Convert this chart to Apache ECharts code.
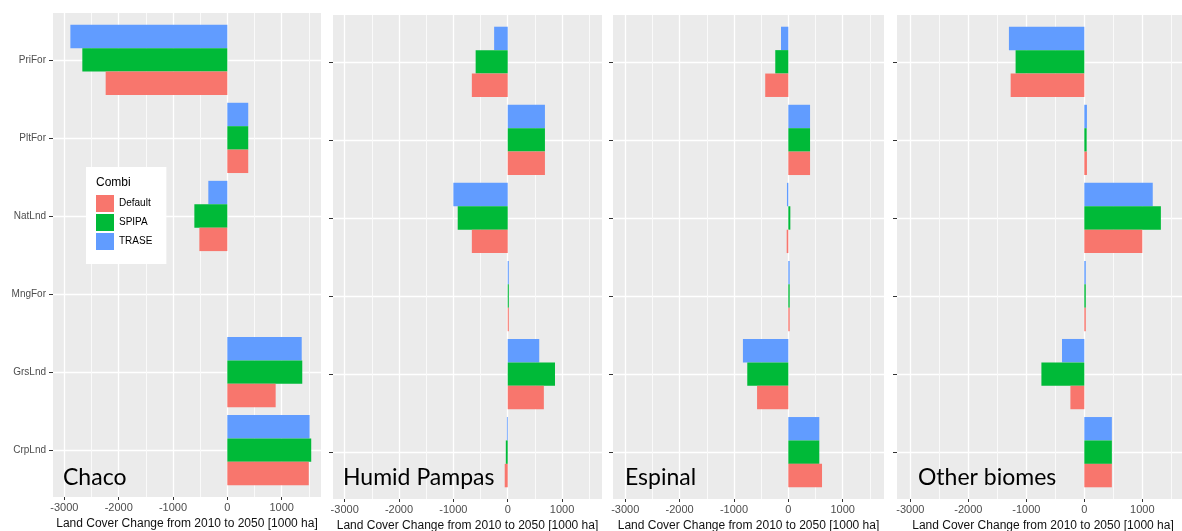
<!DOCTYPE html>
<html>
<head>
<meta charset="utf-8">
<script src="https://cdn.jsdelivr.net/npm/echarts@6/dist/echarts.min.js"></script>
<style>
html,body{margin:0;padding:0;background:#fff;}
#chart{width:1182px;height:531px;}
</style>
</head>
<body>
<div id="chart"></div>
<script>
// ---- data ----
const categories = ['PriFor', 'PltFor', 'NatLnd', 'MngFor', 'GrsLnd', 'CrpLnd'];
const scenarios = ['Default', 'SPIPA', 'TRASE'];
const panelNames = ['Chaco', 'Humid Pampas', 'Espinal', 'Other biomes'];
const majorTicks = [-3000, -2000, -1000, 0, 1000];
const minorTicks = [-2500, -1500, -500, 500, 1500];
const axisTitle = 'Land Cover Change from 2010 to 2050 [1000 ha]';

const chacoDefault = [-2240, 385, -515, 0, 890, 1500];
const chacoSPIPA   = [-2670, 385, -607, 0, 1380, 1545];
const chacoTRASE   = [-2890, 385, -350, 0, 1370, 1515];

const pampasDefault = [-660, 685, -660, 20, 665, -55];
const pampasSPIPA   = [-590, 685, -920, 20, 870, -35];
const pampasTRASE   = [-250, 685, -1000, 20, 580, -15];

const espinalDefault = [-425, 400, -30, 25, -575, 620];
const espinalSPIPA   = [-240, 400, 37, 25, -755, 570];
const espinalTRASE   = [-135, 400, -25, 25, -835, 570];

const otherDefault = [-1270, 45, 1000, 25, -240, 475];
const otherSPIPA   = [-1185, 40, 1320, 25, -740, 475];
const otherTRASE   = [-1300, 45, 1180, 25, -385, 475];

const axisMin = [-3210, -3215, -3225, -3230];
const axisMax = [1725, 1735, 1760, 1805];

// ---- layout / style ----
const panelData = [
  [chacoDefault, chacoSPIPA, chacoTRASE],
  [pampasDefault, pampasSPIPA, pampasTRASE],
  [espinalDefault, espinalSPIPA, espinalTRASE],
  [otherDefault, otherSPIPA, otherTRASE]
];
const colors = {Default: '#F8766D', SPIPA: '#00BA38', TRASE: '#619CFF'};
const panelBox = [
  {left: 53, top: 13, width: 268, height: 484},
  {left: 333, top: 15, width: 269, height: 484},
  {left: 613, top: 15, width: 271, height: 484},
  {left: 897, top: 15, width: 292, height: 484}
];
const titleX = [63, 343, 625, 918];
const pad = 484 * 0.1 / 6.2;

const grid = [], xAxis = [], yAxis = [], series = [], graphic = [];
panelBox.forEach((b, p) => {
  grid.push({left: b.left, top: b.top, width: b.width, height: b.height, outerBoundsMode: 'none',
    containLabel: false, show: true, backgroundColor: '#EBEBEB', borderWidth: 0});
  grid.push({left: b.left, top: b.top + pad, width: b.width, height: b.height - 2 * pad,
    outerBoundsMode: 'none', containLabel: false, show: false});
  // major x axis on background grid
  xAxis.push({type: 'value', gridIndex: 2 * p, min: axisMin[p], max: axisMax[p], position: 'bottom',
    axisLine: {show: false, onZero: false},
    axisTick: {show: true, length: 3, lineStyle: {color: '#333333'}, customValues: majorTicks},
    axisLabel: {show: true, customValues: majorTicks, fontSize: 11, color: '#4D4D4D', margin: 5,
      fontFamily: 'Liberation Sans', formatter: v => String(v)},
    splitLine: {show: true, lineStyle: {color: '#FFFFFF', width: 1.3}},
    name: axisTitle, nameLocation: 'middle', nameGap: 19,
    nameTextStyle: {fontSize: 12, color: '#111', fontFamily: 'Liberation Sans'}
  });
  // minor x grid lines
  xAxis.push({type: 'value', gridIndex: 2 * p, min: axisMin[p], max: axisMax[p], position: 'bottom',
    axisLine: {show: false, onZero: false},
    axisTick: {show: false, customValues: minorTicks},
    axisLabel: {show: false, customValues: minorTicks},
    splitLine: {show: true, lineStyle: {color: '#FAFAFA', width: 1}}
  });
  // hidden x axis for bars
  xAxis.push({type: 'value', gridIndex: 2 * p + 1, min: axisMin[p], max: axisMax[p], show: false,
    axisLine: {onZero: false}, splitLine: {show: false}});
  // horizontal grid lines at category centres
  yAxis.push({type: 'value', gridIndex: 2 * p, min: -0.6, max: categories.length - 0.4, inverse: true,
    axisLine: {show: false, onZero: false},
    axisTick: {show: false, customValues: categories.map((c, i) => i)},
    axisLabel: {show: false, customValues: categories.map((c, i) => i)},
    splitLine: {show: true, lineStyle: {color: '#FFFFFF', width: 1.3}}
  });
  // category axis for bars
  yAxis.push({type: 'category', gridIndex: 2 * p + 1, data: categories, inverse: true, position: 'left',
    axisLine: {show: false, onZero: false},
    axisTick: {show: true, alignWithLabel: true, length: 4, lineStyle: {color: '#333333'}},
    axisLabel: {show: p === 0, fontSize: 10, color: '#4D4D4D', margin: 7, fontFamily: 'Liberation Sans'},
    splitLine: {show: false}
  });
  // series added in reverse so that the first level sits at the bottom of each group
  for (let k = scenarios.length - 1; k >= 0; k--) {
    const s = scenarios[k];
    series.push({type: 'bar', name: s, xAxisIndex: 3 * p + 2, yAxisIndex: 2 * p + 1,
      data: panelData[p][k], barCategoryGap: '10%', barGap: '0%',
      itemStyle: {color: colors[s]}, emphasis: {disabled: true}, silent: true});
  }
  graphic.push({type: 'text', left: titleX[p], top: 466, z: 50,
    style: {text: panelNames[p], fontSize: 23, fontFamily: 'Lato', fill: '#000'}});
});
graphic.push({type: 'text', left: 96, top: 177, z: 50,
  style: {text: 'Combi', fontSize: 12, fontFamily: 'Liberation Sans', fill: '#000'}});

const chart = echarts.init(document.getElementById('chart'), null, {renderer: 'canvas'});
chart.setOption({
  animation: false,
  backgroundColor: '#FFFFFF',
  grid, xAxis, yAxis, series, graphic,
  legend: {
    data: scenarios, orient: 'vertical', left: 86, top: 167,
    padding: [28, 14, 14, 10], itemWidth: 18, itemHeight: 17, itemGap: 2,
    backgroundColor: '#FFFFFF', borderWidth: 0, selectedMode: false, icon: 'rect',
    textStyle: {fontSize: 10, color: '#000', fontFamily: 'Liberation Sans'}
  }
});
</script>
</body>
</html>
